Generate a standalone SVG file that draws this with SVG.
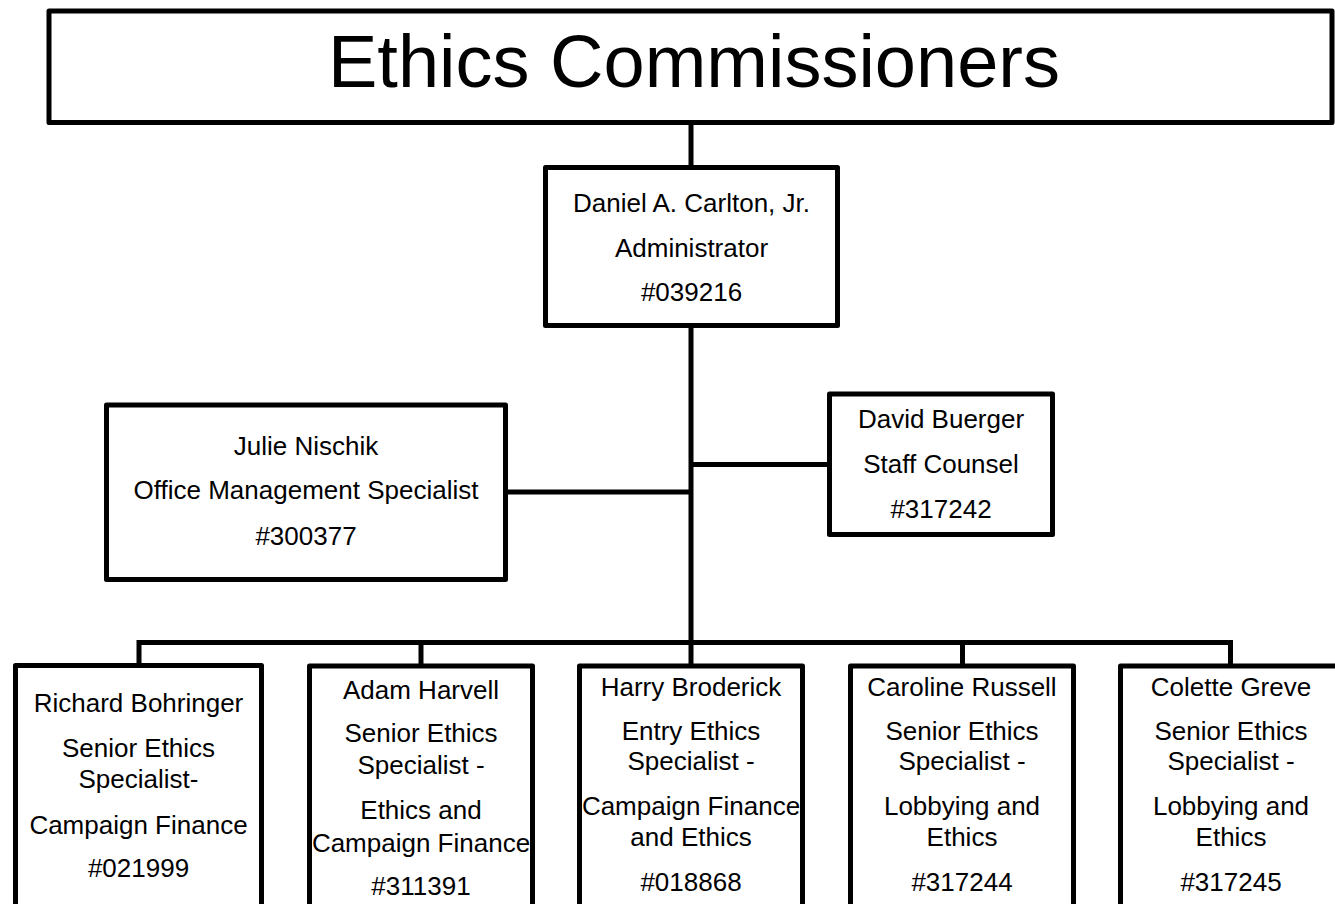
<svg xmlns="http://www.w3.org/2000/svg" width="1335" height="904" viewBox="0 0 1335 904">
<style>
  .box { fill: #ffffff; stroke: #000000; stroke-width: 5; stroke-linejoin: round; }
  .wire { fill: none; stroke: #000000; stroke-width: 5; stroke-linecap: butt; }
  text { font-family: "Liberation Sans", Arial, sans-serif; fill: #000000; text-anchor: middle; }
  .t { font-size: 26px; }
  .title { font-size: 74px; }
</style>
<rect width="1335" height="904" fill="#ffffff"/>
<g id="connectors">
  <line class="wire" x1="691" y1="122" x2="691" y2="168"/>
  <line class="wire" x1="691" y1="325" x2="691" y2="644"/>
  <line class="wire" x1="505" y1="492" x2="691" y2="492"/>
  <line class="wire" x1="691" y1="464.5" x2="830" y2="464.5"/>
  <path class="wire" d="M139,666 V642.5 H1230.5 V666" stroke-linejoin="miter"/>
  <line class="wire" x1="421" y1="642" x2="421" y2="666"/>
  <line class="wire" x1="691" y1="642" x2="691" y2="666"/>
  <line class="wire" x1="962.5" y1="642" x2="962.5" y2="666"/>
</g>
<g id="ethics-commissioners">
  <rect class="box" x="49" y="11" width="1283" height="111.5"/>
  <text class="title" x="694" y="87">Ethics Commissioners</text>
</g>
<g id="daniel-carlton">
  <rect class="box" x="545.5" y="167.5" width="292" height="158"/>
  <text class="t" x="691.5" y="212">Daniel A. Carlton, Jr.</text>
  <text class="t" x="691.5" y="256.5">Administrator</text>
  <text class="t" x="691.5" y="301">#039216</text>
</g>
<g id="julie-nischik">
  <rect class="box" x="106.5" y="405" width="399" height="174.5"/>
  <text class="t" x="306" y="455">Julie Nischik</text>
  <text class="t" x="306" y="499">Office Management Specialist</text>
  <text class="t" x="306" y="545">#300377</text>
</g>
<g id="david-buerger">
  <rect class="box" x="829.5" y="394" width="223" height="140.5"/>
  <text class="t" x="941" y="428">David Buerger</text>
  <text class="t" x="941" y="473">Staff Counsel</text>
  <text class="t" x="941" y="518">#317242</text>
</g>
<g id="richard-bohringer">
  <rect class="box" x="15.5" y="665.5" width="246" height="260"/>
  <text class="t" x="138.5" y="712">Richard Bohringer</text>
  <text class="t" x="138.5" y="757">Senior Ethics</text>
  <text class="t" x="138.5" y="788">Specialist-</text>
  <text class="t" x="138.5" y="834">Campaign Finance</text>
  <text class="t" x="138.5" y="877">#021999</text>
</g>
<g id="adam-harvell">
  <rect class="box" x="309.5" y="666" width="223" height="260"/>
  <text class="t" x="421" y="699">Adam Harvell</text>
  <text class="t" x="421" y="742">Senior Ethics</text>
  <text class="t" x="421" y="774">Specialist -</text>
  <text class="t" x="421" y="819">Ethics and</text>
  <text class="t" x="421" y="852">Campaign Finance</text>
  <text class="t" x="421" y="895">#311391</text>
</g>
<g id="harry-broderick">
  <rect class="box" x="579.5" y="666" width="223" height="260"/>
  <text class="t" x="691" y="696">Harry Broderick</text>
  <text class="t" x="691" y="740">Entry Ethics</text>
  <text class="t" x="691" y="770">Specialist -</text>
  <text class="t" x="691" y="815">Campaign Finance</text>
  <text class="t" x="691" y="846">and Ethics</text>
  <text class="t" x="691" y="891">#018868</text>
</g>
<g id="caroline-russell">
  <rect class="box" x="850.5" y="666" width="223" height="260"/>
  <text class="t" x="962" y="696">Caroline Russell</text>
  <text class="t" x="962" y="740">Senior Ethics</text>
  <text class="t" x="962" y="770">Specialist -</text>
  <text class="t" x="962" y="815">Lobbying and</text>
  <text class="t" x="962" y="846">Ethics</text>
  <text class="t" x="962" y="891">#317244</text>
</g>
<g id="colette-greve">
  <rect class="box" x="1120.5" y="666" width="222" height="260"/>
  <text class="t" x="1231" y="696">Colette Greve</text>
  <text class="t" x="1231" y="740">Senior Ethics</text>
  <text class="t" x="1231" y="770">Specialist -</text>
  <text class="t" x="1231" y="815">Lobbying and</text>
  <text class="t" x="1231" y="846">Ethics</text>
  <text class="t" x="1231" y="891">#317245</text>
</g>
</svg>
